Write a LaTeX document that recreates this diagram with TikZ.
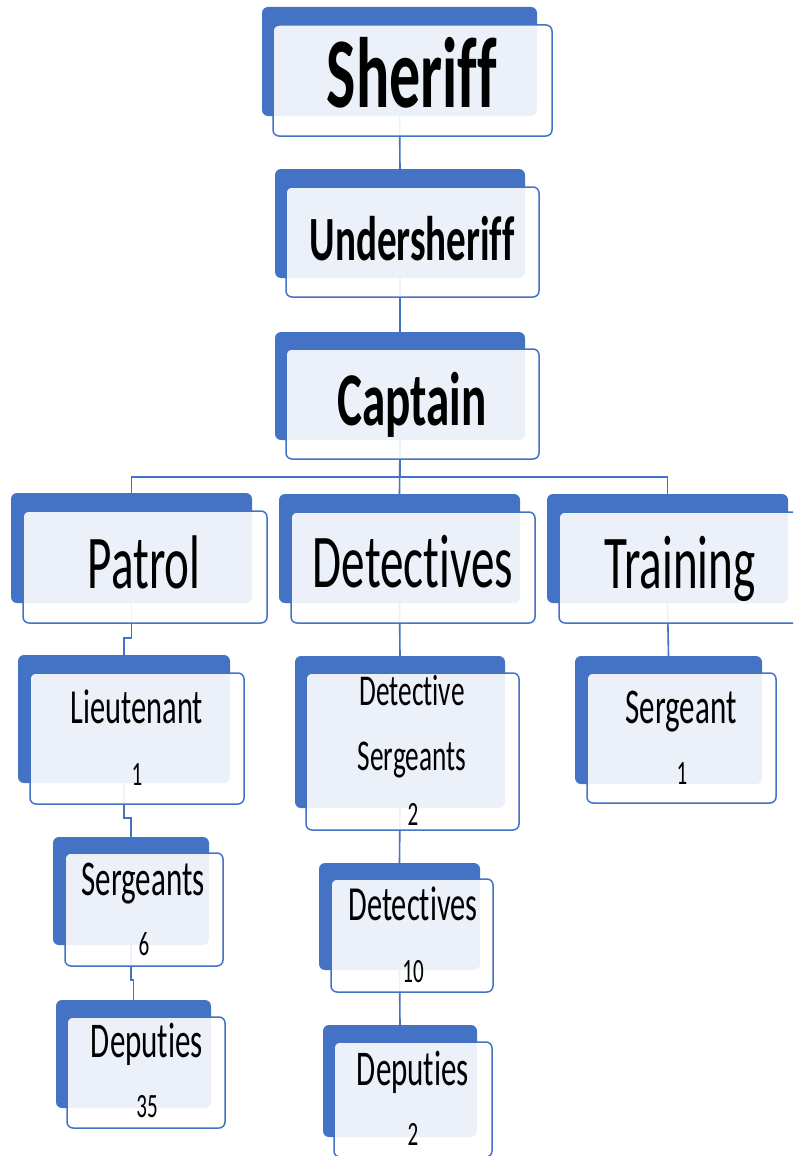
\documentclass[tikz,border=0pt]{standalone}
\usepackage{fontspec}
\newfontfamily\orgfont[FakeStretch=0.62, Ligatures={NoCommon}]{Carlito}
\definecolor{orgblue}{HTML}{4472C4}
\begin{document}
\begin{tikzpicture}[x=1pt, y=-1pt,
    back/.style={fill=orgblue, rounded corners=6pt, inner sep=0pt, outer sep=0pt},
    front/.style={draw=orgblue, line width=1.5pt, fill=white, fill opacity=0.9,
                  rounded corners=6pt, inner sep=0pt, outer sep=0pt},
    link/.style={draw=orgblue, line width=1.6pt},
    txt/.style={anchor=base, inner sep=0pt, font=\orgfont\fontsize{#1}{#1}\selectfont},
    txtb/.style={anchor=base, inner sep=0pt, font=\orgfont\bfseries\fontsize{#1}{#1}\selectfont}]
  \useasboundingbox (0,0) rectangle (793,1156);
  \clip (0,0) rectangle (793,1156);
  % back boxes
  \node[back, minimum width=275, minimum height=109] (sheriffB) at (399.5,61.5) {};
  \node[back, minimum width=250, minimum height=109] (underB) at (400,223.5) {};
  \node[back, minimum width=250, minimum height=108] (captainB) at (400,386) {};
  \node[back, minimum width=241, minimum height=110] (patrolB) at (131.5,548) {};
  \node[back, minimum width=241, minimum height=109] (detsB) at (399.5,548.5) {};
  \node[back, minimum width=241, minimum height=109] (trainB) at (667.5,548.5) {};
  \node[back, minimum width=212, minimum height=128] (lieutB) at (124,719) {};
  \node[back, minimum width=156, minimum height=108] (psgtB) at (131,891) {};
  \node[back, minimum width=155, minimum height=108] (pdepB) at (133.5,1054) {};
  \node[back, minimum width=210, minimum height=152] (dsgtB) at (400,732) {};
  \node[back, minimum width=161, minimum height=107] (ddetB) at (399.5,916.5) {};
  \node[back, minimum width=154, minimum height=112] (ddepB) at (400,1081) {};
  \node[back, minimum width=187, minimum height=128] (tsgtB) at (668.5,720) {};
  % connectors
  \draw[link] (sheriffB.south) -- (underB.north);
  \draw[link] (underB.south) -- (captainB.north);
  \draw[link] (captainB.south) -- ++(0,37) -| (patrolB.north);
  \draw[link] (captainB.south) -- (detsB.north);
  \draw[link] (captainB.south) -- ++(0,37) -| (trainB.north);
  \draw[link] (patrolB.south) -- ++(0,35) -| (lieutB.north);
  \draw[link] (lieutB.south) -- ++(0,35) -| (psgtB.north);
  \draw[link] (psgtB.south) -- ++(0,35) -| (pdepB.north);
  \draw[link] (detsB.south) -- (dsgtB.north);
  \draw[link] (dsgtB.south) -- (ddetB.north);
  \draw[link] (ddetB.south) -- (ddepB.north);
  \draw[link] (trainB.south) -- (tsgtB.north);
  % front boxes
  \node[front, minimum width=279, minimum height=111] (sheriff) at (412.5,80.5) {};
  \node[front, minimum width=253, minimum height=110] (under) at (412.5,242) {};
  \node[front, minimum width=253, minimum height=110] (captain) at (412.5,404) {};
  \node[front, minimum width=244, minimum height=112] (patrol) at (145,567) {};
  \node[front, minimum width=244, minimum height=111] (dets) at (413,567.5) {};
  \node[front, minimum width=244, minimum height=111] (train) at (681,567.5) {};
  \node[front, minimum width=214, minimum height=131] (lieut) at (137,738.5) {};
  \node[front, minimum width=158, minimum height=113] (psgt) at (144,909.5) {};
  \node[front, minimum width=158, minimum height=111] (pdep) at (146,1072.5) {};
  \node[front, minimum width=213, minimum height=157] (dsgt) at (412.5,751.5) {};
  \node[front, minimum width=162, minimum height=113] (ddet) at (412,935.5) {};
  \node[front, minimum width=158, minimum height=115] (ddep) at (413,1099.5) {};
  \node[front, minimum width=189, minimum height=130] (tsgt) at (681.5,738) {};
  % texts
  \node[txtb=100] (sheriffT) at (412,107) {Sheriff};
  \node[txtb=63] (underT) at (412,260) {Undersheriff};
  \node[txtb=76] (captainT) at (412,425) {Captain};
  \node[txt=76] (patrolT) at (144,588) {Patrol};
  \node[txt=76] (detsT) at (413,587) {Detectives};
  \node[txt=76] (trainT) at (680,588) {Training};
  \node[txt=49] (lieutT) at (137,723) {Lieutenant};
  \node[txt=34] (lieutN) at (137,785) {1};
  \node[txt=50] (psgtT) at (143,895) {Sergeants};
  \node[txt=34] (psgtN) at (144,955) {6};
  \node[txt=50] (pdepT) at (147,1057) {Deputies};
  \node[txt=34] (pdepN) at (147,1117) {35};
  \node[txt=44] (dsgtT) at (412,705) {Detective};
  \node[txt=44] (dsgtS) at (412,770) {Sergeants};
  \node[txt=34] (dsgtN) at (413,825) {2};
  \node[txt=49] (ddetT) at (413,920) {Detectives};
  \node[txt=34] (ddetN) at (413,982) {10};
  \node[txt=50] (ddepT) at (413,1085) {Deputies};
  \node[txt=34] (ddepN) at (413,1145) {2};
  \node[txt=50] (tsgtT) at (681,723) {Sergeant};
  \node[txt=34] (tsgtN) at (682,784) {1};
\end{tikzpicture}
\end{document}
